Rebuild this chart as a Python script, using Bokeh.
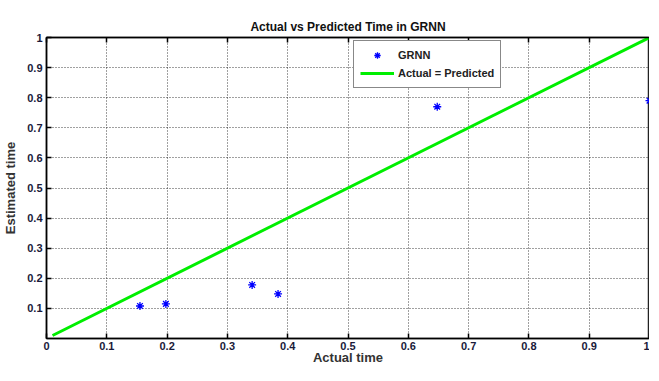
from bokeh.plotting import figure
from bokeh.models import LinearAxis, FixedTicker, Range1d, Legend, LegendItem
from bokeh.embed import file_html
from bokeh.resources import INLINE

# data
actual = [0.155, 0.198, 0.341, 0.384, 0.648, 1.0]
predicted = [0.108, 0.115, 0.178, 0.148, 0.770, 0.790]
ideal_x = [0.01, 1.0]
ideal_y = [0.01, 1.0]
x_ticks = [0, 0.1, 0.2, 0.3, 0.4, 0.5, 0.6, 0.7, 0.8, 0.9, 1.0]
y_ticks = [0.1, 0.2, 0.3, 0.4, 0.5, 0.6, 0.7, 0.8, 0.9, 1.0]

FONT = "Liberation Sans"

p = figure(frame_width=603, frame_height=301, output_backend="svg", toolbar_location=None,
           x_range=Range1d(0, 1), y_range=Range1d(0, 1),
           title="Actual vs Predicted Time in GRNN",
           min_border_left=43, min_border_right=0, min_border_bottom=0, min_border_top=37)

p.title.align = "center"
p.title.text_font = FONT
p.title.text_font_size = "12px"
p.title.text_font_style = "bold"
p.title.text_color = "#111111"
p.title.standoff = 7

p.outline_line_color = "#222222"
p.outline_line_width = 1.5

for ax, ticks in ((p.xaxis[0], x_ticks), (p.yaxis[0], y_ticks)):
    ax.ticker = FixedTicker(ticks=ticks)
    ax.major_label_overrides = {0: "0", 1: "1"}
    ax.major_label_text_font = FONT
    ax.major_label_text_font_size = "11px"
    ax.major_label_text_font_style = "bold"
    ax.major_label_text_color = "#1a1a3a"
    ax.major_tick_in = 5
    ax.major_tick_out = 0
    ax.minor_tick_line_color = None
    ax.major_tick_line_width = 1.5
    ax.axis_line_width = 1.5
    ax.axis_label_text_font = FONT
    ax.axis_label_text_font_size = "13px"
    ax.axis_label_text_font_style = "bold"
    ax.axis_label_text_color = "#333333"
    ax.major_label_standoff = 4

p.xaxis.axis_label = "Actual time"
p.yaxis.axis_label = "Estimated time"
p.xaxis.axis_label_standoff = -3
p.xaxis.major_label_standoff = 3
p.yaxis.axis_label_standoff = 6

top_axis = LinearAxis(ticker=FixedTicker(ticks=x_ticks),
                      major_label_overrides={t: "" for t in x_ticks},
                      major_label_text_font_size="1px",
                      major_label_standoff=0, major_tick_in=5, major_tick_out=0,
                      minor_tick_line_color=None, major_tick_line_width=1.5, axis_line_width=1.5)
p.add_layout(top_axis, "above")

p.xgrid.ticker = FixedTicker(ticks=x_ticks)
p.ygrid.ticker = FixedTicker(ticks=y_ticks)
p.grid.grid_line_color = "#111111"
p.grid.grid_line_dash = "1 2"
p.grid.grid_line_width = 1
p.grid.grid_line_alpha = 0.8

pts = p.scatter(actual, predicted, marker="asterisk", size=8, line_color="#0000ff", line_width=1.3)
ln = p.line(ideal_x, ideal_y, line_color="#00ee00", line_width=3)

legend = Legend(items=[LegendItem(label="GRNN", renderers=[pts]),
                       LegendItem(label="Actual = Predicted", renderers=[ln])],
                location=(307, 250))
legend.label_text_font = FONT
legend.label_text_font_size = "11px"
legend.label_text_font_style = "bold"
legend.label_text_color = "#222222"
legend.border_line_color = "#111111"
legend.border_line_width = 1.5
legend.glyph_width = 34
legend.glyph_height = 16
legend.spacing = 2
legend.padding = 6
legend.margin = 0
legend.label_standoff = 4
legend.background_fill_alpha = 1
p.add_layout(legend, "center")

open("out.html", "w").write(file_html(p, INLINE))
